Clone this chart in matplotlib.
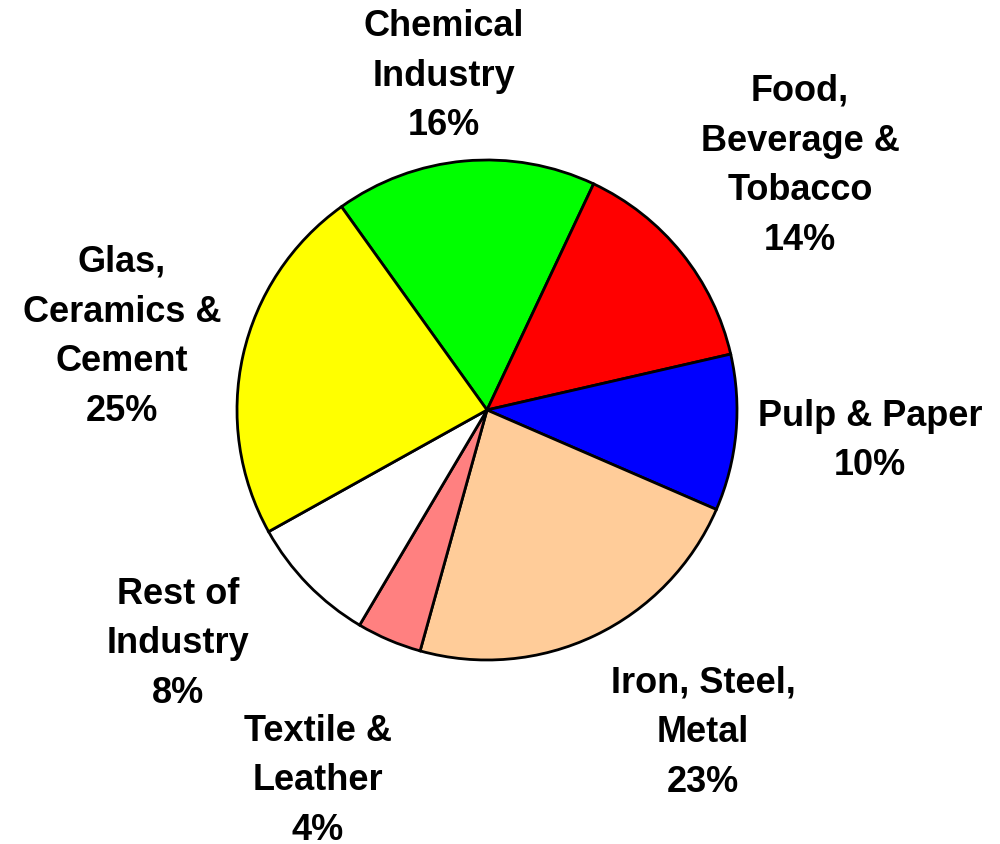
import matplotlib.pyplot as plt

# sectors, clockwise from the Glas/Chemical border
sectors = ['Chemical\nIndustry', 'Food,\nBeverage &\nTobacco', 'Pulp & Paper',
           'Iron, Steel,\nMetal', 'Textile &\nLeather', 'Rest of\nIndustry',
           'Glas,\nCeramics &\nCement']
shares = [16.9, 14.4, 10.1, 22.8, 4.2, 8.4, 23.2]   # slice sizes as drawn
pct_labels = [16, 14, 10, 23, 4, 8, 25]            # printed percentages
colors = ['#00ff00', '#ff0000', '#0000ff', '#ffcc99', '#ff8080', '#ffffff', '#ffff00']

# label centres in pixels (x, y from top)
label_pos = [(444, 76), (800, 166), (870, 441), (703, 733),
             (318, 781), (178, 644), (122, 337)]

W, H = 1000, 845
fig = plt.figure(figsize=(W / 100, H / 100), dpi=100)
ax = fig.add_axes([0, 0, 1, 1])

ax.pie(shares, colors=colors, startangle=125.6, counterclock=False,
       center=(487, H - 411), radius=250, frame=True,
       wedgeprops=dict(edgecolor='black', linewidth=2))
ax.set_xlim(0, W)
ax.set_ylim(0, H)
ax.set_aspect('equal')
ax.axis('off')

for name, p, (x, y) in zip(sectors, pct_labels, label_pos):
    ax.text(x, H - y, f'{name}\n{p}%', ha='center', va='center',
            fontsize=26, fontweight='bold', family='Liberation Sans',
            linespacing=1.55)

fig.savefig('out.png', dpi=100)
